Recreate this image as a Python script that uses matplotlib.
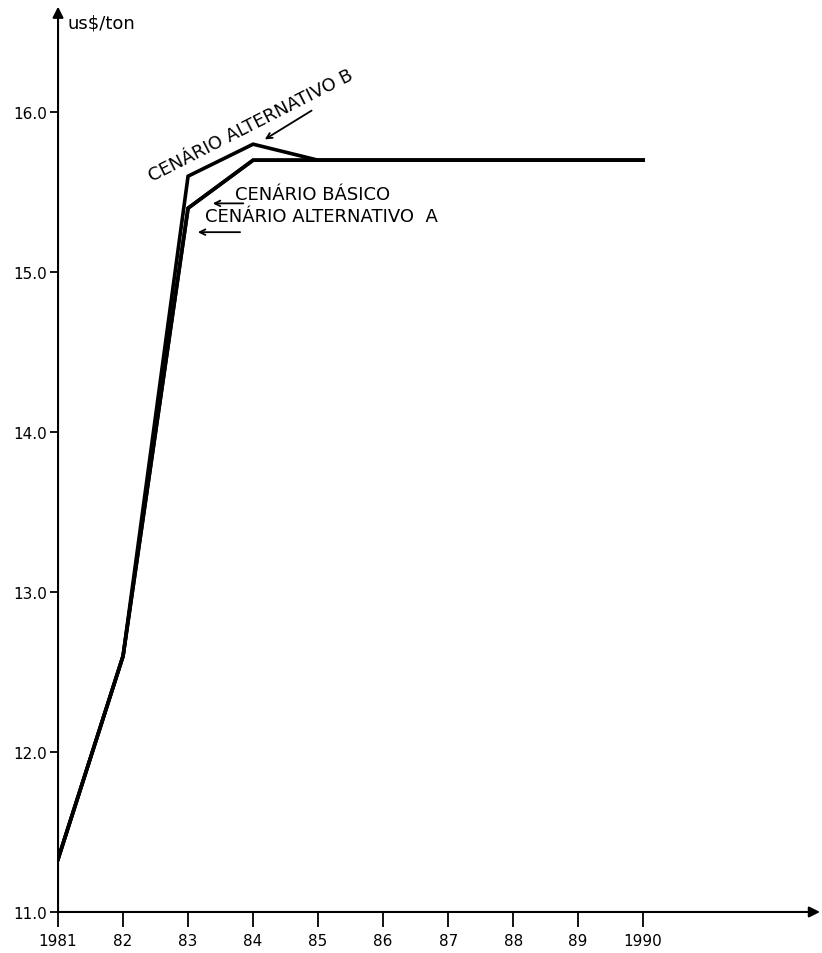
"""
Preço projetado (US$/ton) 1981-1990 para três cenários.
"""

import matplotlib
import matplotlib.pyplot as plt

matplotlib.use("Agg")

# ---------------------------------------------------------------------------
# Data
# ---------------------------------------------------------------------------

YEARS = [1981, 1982, 1983, 1984, 1985, 1986, 1987, 1988, 1989, 1990]
BASICO = [11.33, 12.6, 15.4, 15.7, 15.7, 15.7, 15.7, 15.7, 15.7, 15.7]
ALT_A = [11.33, 12.6, 15.4, 15.7, 15.7, 15.7, 15.7, 15.7, 15.7, 15.7]
ALT_B = [11.33, 12.6, 15.6, 15.8, 15.7, 15.7, 15.7, 15.7, 15.7, 15.7]

X_TICK_LABELS = ["1981", "82", "83", "84", "85", "86", "87", "88", "89", "1990"]
Y_TICKS = [11.0, 12.0, 13.0, 14.0, 15.0, 16.0]

FONT = ["DejaVu Sans"]

fig = plt.figure(figsize=(8.22, 9.54), dpi=100)
ax = fig.add_axes([0.0706, 0.043, 0.927, 0.949])

ax.plot(YEARS, ALT_A, color="black", lw=2.6, solid_joinstyle="miter")
ax.plot(YEARS, BASICO, color="black", lw=2.6, solid_joinstyle="miter")
ax.plot(YEARS, ALT_B, color="black", lw=2.6, solid_joinstyle="miter")

ax.set_xlim(1981, 1992.72)
ax.set_ylim(11.0, 16.66)

# ── axes drawn as arrows ──────────────────────────────────────────────
for s in ax.spines.values():
    s.set_visible(False)
arrow = dict(arrowstyle="-|>", color="black", lw=1.5, mutation_scale=16,
             shrinkA=0, shrinkB=0)
ax.annotate("", xy=(1, 0), xytext=(0, 0), xycoords="axes fraction",
            arrowprops=arrow)
ax.annotate("", xy=(0, 1), xytext=(0, 0), xycoords="axes fraction",
            arrowprops=arrow)

ax.set_xticks(YEARS)
ax.set_xticklabels(X_TICK_LABELS, fontsize=11, family=FONT)
ax.set_yticks(Y_TICKS)
ax.set_yticklabels([f"{v:.1f}" for v in Y_TICKS], fontsize=11, family=FONT)
ax.tick_params(axis="x", direction="out", length=11, width=1.3, pad=4)
ax.tick_params(axis="y", direction="out", length=6, width=1.3, pad=2)

ax.text(1981.15, 16.56, "us$/ton", fontsize=13, family=FONT, ha="left", va="center")

# ── scenario labels ───────────────────────────────────────────────────
pointer = dict(arrowstyle="->", color="black", lw=1.3, shrinkA=0, shrinkB=0)

ax.text(1983.97, 15.92, "CENÁRIO ALTERNATIVO B", fontsize=13, family=FONT,
        rotation=27, ha="center", va="center")
ax.annotate("", xy=(1984.18, 15.83), xytext=(1984.9, 16.01), arrowprops=pointer)

ax.text(1983.72, 15.49, "CENÁRIO BÁSICO", fontsize=13, family=FONT,
        ha="left", va="center")
ax.annotate("", xy=(1983.38, 15.43), xytext=(1983.85, 15.43), arrowprops=pointer)

ax.text(1983.26, 15.35, "CENÁRIO ALTERNATIVO  A", fontsize=13, family=FONT,
        ha="left", va="center")
ax.annotate("", xy=(1983.15, 15.25), xytext=(1983.8, 15.25), arrowprops=pointer)

fig.savefig("out.png", dpi=100)
plt.close(fig)
